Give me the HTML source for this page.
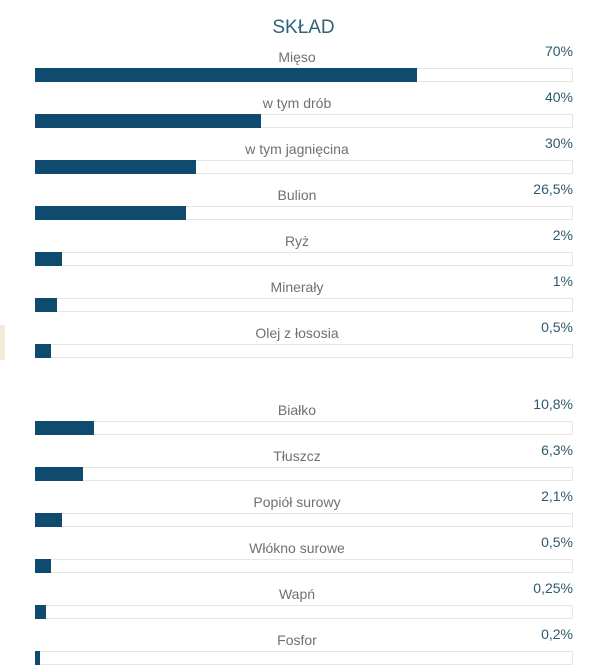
<!DOCTYPE html>
<html><head><meta charset="utf-8"><style>
body{margin:0;width:607px;height:668px;background:#fff;position:relative;overflow:hidden;font-family:"Liberation Sans",sans-serif}
.t{position:absolute;left:0;width:607px;text-align:center;top:17px;font-size:19px;color:#2e6378}
.l{position:absolute;left:35px;width:524px;text-align:center;font-size:14px;color:#707070}
.p{position:absolute;right:34px;font-size:14px;color:#2e5a70}
.tr{position:absolute;left:35px;width:537px;height:12px;border:1px solid #e6e6e6;border-left:none;background:#fff}
.f{position:absolute;left:35px;height:14px;background:#0f4b6e}
</style></head><body>
<div class="t">SKŁAD</div>
<div style="position:absolute;left:0;top:325px;width:5px;height:35px;background:#f3ead9"></div>
<script>
var d=[["Mięso","70%",382,68],["w tym drób","40%",226,114],["w tym jagnięcina","30%",161,160],["Bulion","26,5%",151,206],["Ryż","2%",27,252],["Minerały","1%",22,298],["Olej z łososia","0,5%",16,344],["Białko","10,8%",59,421],["Tłuszcz","6,3%",48,467],["Popiół surowy","2,1%",27,513],["Włókno surowe","0,5%",16,559],["Wapń","0,25%",11,605],["Fosfor","0,2%",5,651]];
var h="";d.forEach(function(r){var y=r[3];
h+='<div class="l" style="top:'+(y-19)+'px">'+r[0]+'</div><div class="p" style="top:'+(y-25)+'px">'+r[1]+'</div><div class="tr" style="top:'+y+'px"></div><div class="f" style="top:'+y+'px;width:'+r[2]+'px"></div>';});
document.write(h);
</script>
</body></html>
